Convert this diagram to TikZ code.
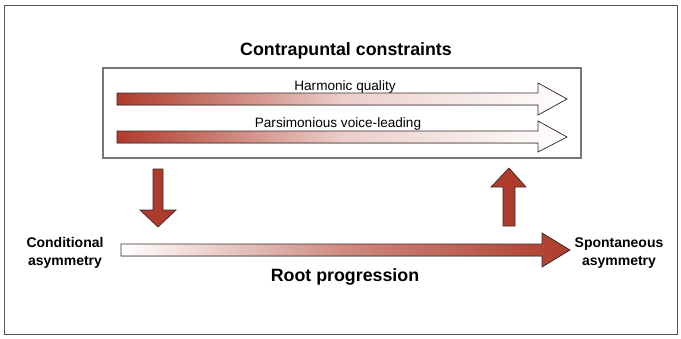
\documentclass[tikz,border=0pt]{standalone}
\usepackage{fontspec}
\setmainfont{Liberation Sans}
\usetikzlibrary{calc}

\begin{document}
\begin{tikzpicture}[x=1pt, y=-1pt,
    titleText/.style={font=\fontsize{17.8}{20}\selectfont\bfseries, inner sep=0pt},
    sideText/.style={font=\fontsize{14}{17.5}\selectfont\bfseries, align=center, inner sep=0pt},
    flowText/.style={font=\fontsize{13.6}{15}\selectfont, inner sep=0pt}]

    \definecolor{borderColour}{HTML}{555555}
    \definecolor{edgeColour}{HTML}{3A2A28}
    \definecolor{arrowColour}{HTML}{AE3B2B}

    % Fix the page size
    \useasboundingbox (0,0) rectangle (681,338);

    % Draw outer frame and inner box
    \draw[borderColour, line width=1pt] (4,5) rectangle (677,334);
    \draw[borderColour!80, line width=1.3pt] (103,68) rectangle (581,158);

    % Draw the two constraint arrows (red fading to white)
    \filldraw[draw=edgeColour, line width=0.7pt, left color=arrowColour, right color=white, middle color=arrowColour!25]
        (117,93) -- (538,93) -- (538,83) -- (567,99) -- (538,115) -- (538,105) -- (117,105) -- cycle;
    \filldraw[draw=edgeColour, line width=0.7pt, left color=arrowColour, right color=white, middle color=arrowColour!25]
        (117,131) -- (538,131) -- (538,121) -- (567,137) -- (538,152) -- (538,143) -- (117,143) -- cycle;

    % Draw the vertical arrows
    \filldraw[fill=arrowColour, draw=edgeColour, line width=0.7pt]
        (153,169) -- (163,169) -- (163,210) -- (176,210) -- (158,227) -- (140,210) -- (153,210) -- cycle;
    \filldraw[fill=arrowColour, draw=edgeColour, line width=0.7pt]
        (503,226) -- (515,226) -- (515,187) -- (526,187) -- (509,168) -- (491,187) -- (503,187) -- cycle;

    % Draw the root progression arrow (white growing to red)
    \filldraw[draw=edgeColour, line width=0.7pt, left color=white, right color=arrowColour, middle color=arrowColour!60]
        (121,244) -- (542,244) -- (542,233) -- (570,250) -- (542,267) -- (542,256) -- (121,256) -- cycle;

    % Labels
    \node[titleText] (constraints) at (346,51) {Contrapuntal constraints};
    \node[flowText] (harmonic) at (345,87) {Harmonic quality};
    \node[flowText] (voiceLeading) at (338,124) {Parsimonious voice-leading};
    \node[sideText] (conditional) at (65,253) {Conditional\\asymmetry};
    \node[sideText] (spontaneous) at (619,253) {Spontaneous\\asymmetry};
    \node[titleText] (root) at (345,277) {Root progression};

\end{tikzpicture}
\end{document}
